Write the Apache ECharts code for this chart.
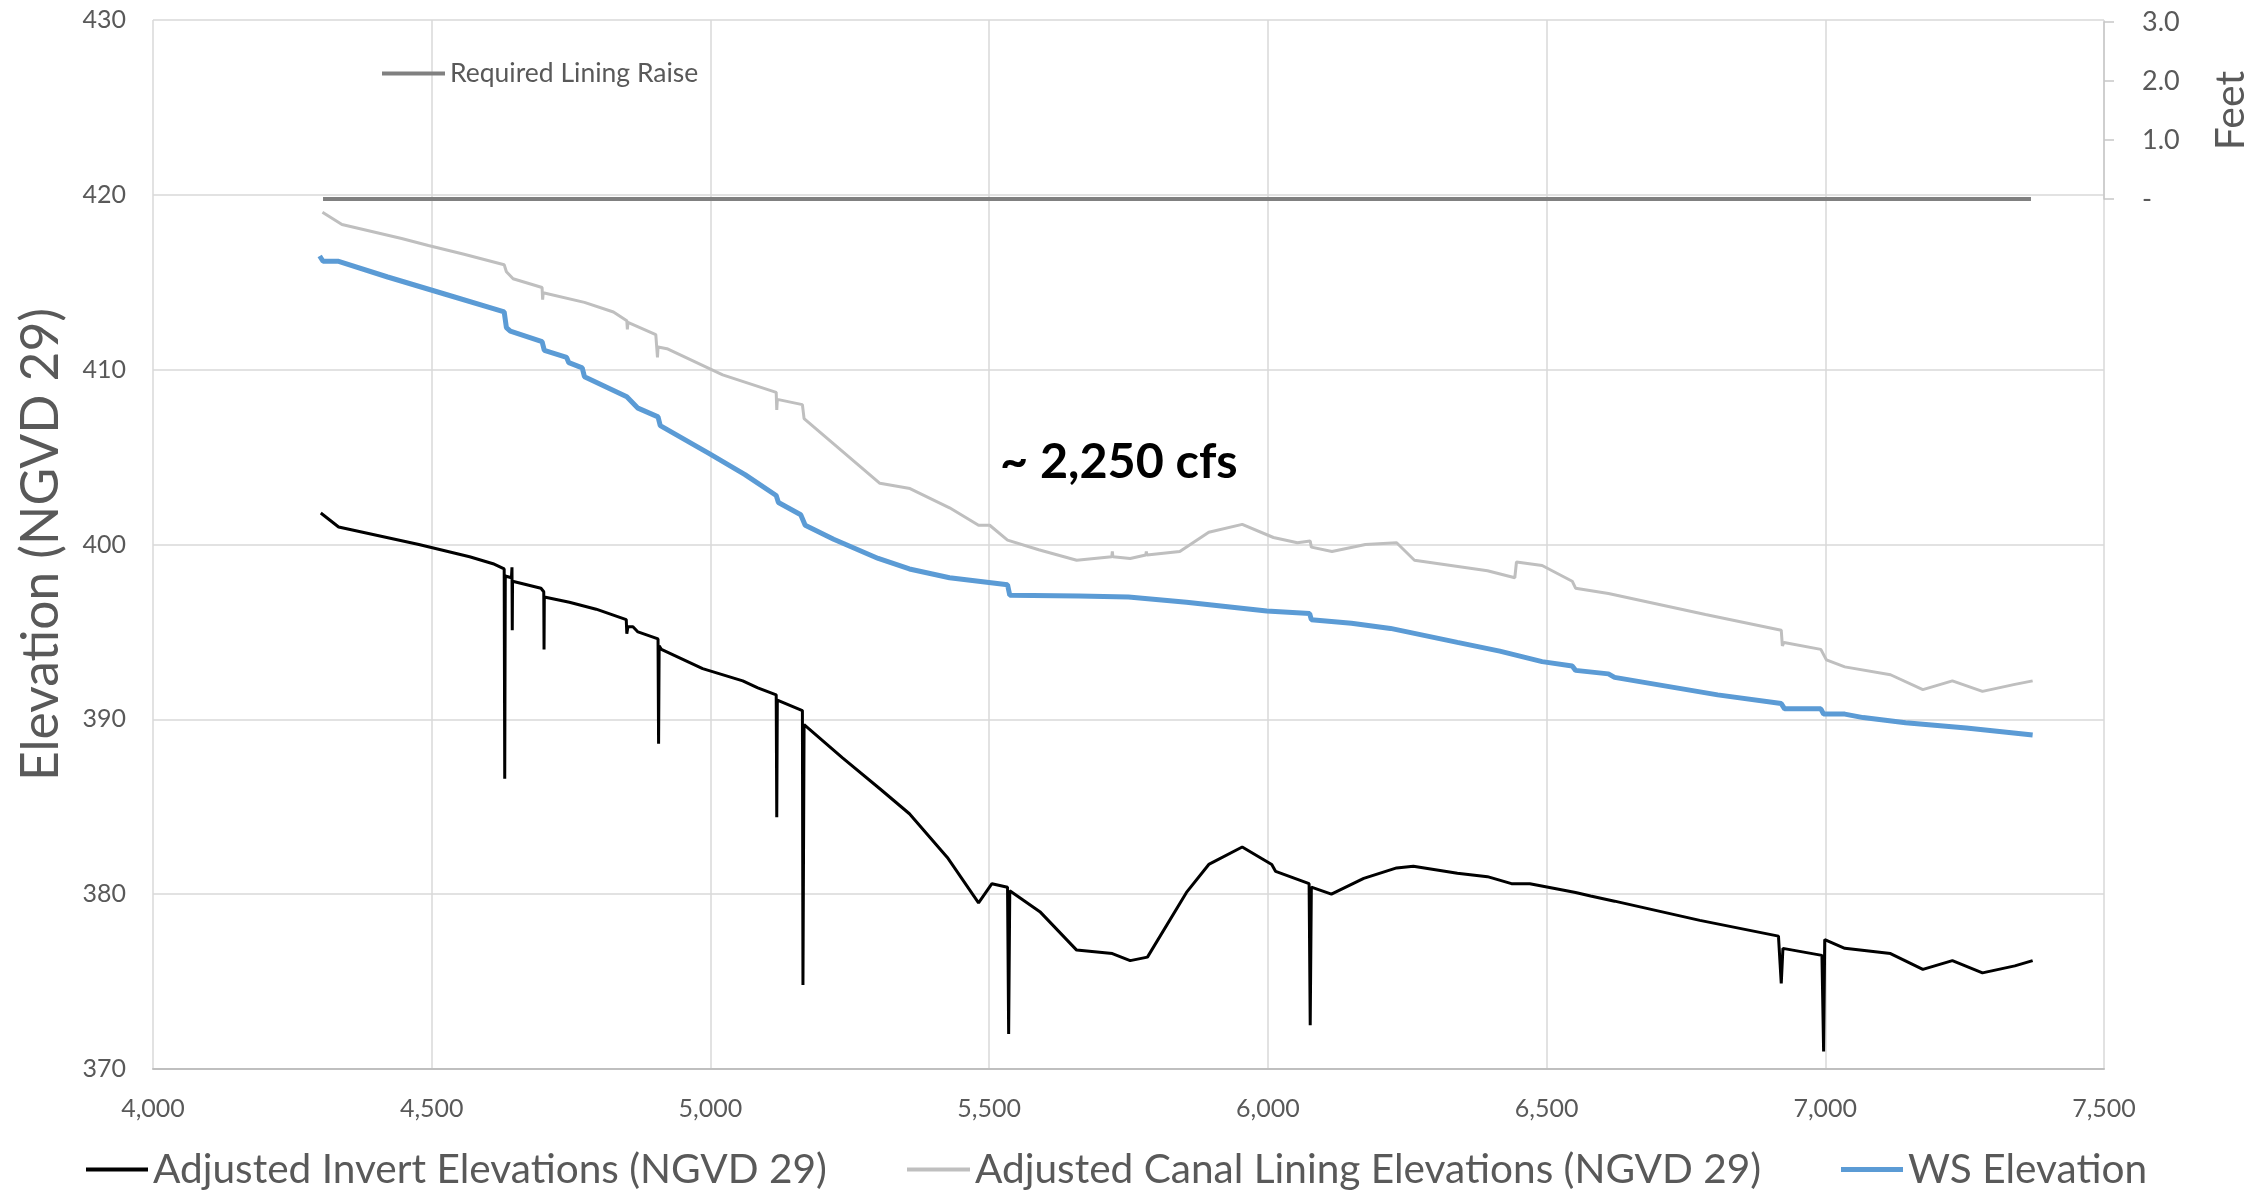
<!DOCTYPE html>
<html>
<head>
<meta charset="utf-8">
<script src="https://cdn.jsdelivr.net/npm/echarts@6/dist/echarts.min.js"></script>
<style>
html,body{margin:0;padding:0;background:#fff;}
#chart{width:2250px;height:1191px;}
</style>
</head>
<body>
<div id="chart"></div>
<script>
// ---- Data (station, elevation) ----
const invertPoints = [
  [4301,401.8],[4317,401.4],[4333,401.0],[4477,400.0],[4568,399.3],[4610,398.9],[4630,398.6],
  [4631,386.6],[4632,398.2],[4643,398.1],[4644,398.7],[4644.5,395.1],[4645,397.9],
  [4696,397.5],[4701,397.3],[4701.5,394.0],[4702,397.0],[4747,396.7],[4795,396.3],
  [4849,395.7],[4850,394.9],[4852,395.3],[4861,395.3],[4870,395.0],[4906,394.6],
  [4907,388.6],[4908,394.2],[4912,394.0],[4986,392.9],[5058,392.2],[5085,391.8],
  [5118,391.4],[5119,384.4],[5120,391.1],[5165,390.5],[5166,374.8],[5168,389.7],
  [5237,387.8],[5305,386.0],[5357,384.6],[5425,382.1],[5481,379.5],[5505,380.6],
  [5533,380.4],[5535,372.0],[5537,380.2],[5591,379.0],[5657,376.8],[5721,376.6],
  [5753,376.2],[5784,376.4],[5854,380.1],[5894,381.7],[5954,382.7],[6007,381.7],
  [6014,381.3],[6074,380.6],[6076,372.5],[6078,380.4],[6114,380.0],[6172,380.9],
  [6231,381.5],[6261,381.6],[6340,381.2],[6394,381.0],[6437,380.6],[6470,380.6],
  [6503,380.4],[6552,380.1],[6579,379.9],[6622,379.6],[6775,378.5],[6916,377.6],
  [6921,374.9],[6924,376.9],[6994,376.5],[6997,371.0],[6999,377.4],[7035,376.9],
  [7117,376.6],[7175,375.7],[7228,376.2],[7282,375.5],[7340,375.9],[7372,376.2]
];
const liningPoints = [
  [4304,419.0],[4339,418.3],[4446,417.5],[4494,417.1],[4558,416.6],[4630,416.0],
  [4634,415.6],[4646,415.2],[4698,414.7],[4699,414.0],[4700,414.4],[4774,413.85],
  [4826,413.3],[4850,412.8],[4851,412.3],[4852,412.7],[4902,412.0],[4905,410.7],
  [4906,411.3],[4922,411.2],[5022,409.7],[5118,408.7],[5119,407.7],[5120,408.3],
  [5165,408.0],[5168,407.2],[5304,403.5],[5358,403.2],[5429,402.1],[5481,401.1],
  [5501,401.1],[5533,400.25],[5589,399.7],[5657,399.1],[5720,399.3],[5721,399.6],
  [5722,399.3],[5753,399.2],[5781,399.4],[5782,399.6],[5783,399.4],[5842,399.6],
  [5894,400.7],[5954,401.15],[6010,400.4],[6053,400.1],[6076,400.2],[6078,399.85],
  [6115,399.6],[6175,400.0],[6231,400.1],[6263,399.1],[6394,398.5],[6443,398.1],
  [6446,399.0],[6492,398.8],[6546,397.9],[6552,397.5],[6611,397.2],[6785,396.0],
  [6921,395.1],[6923,394.2],[6926,394.4],[6992,394.0],[7002,393.4],[7035,393.0],
  [7117,392.55],[7175,391.7],[7228,392.2],[7282,391.6],[7340,392.0],[7372,392.2]
];
const wsPoints = [
  [4299,416.5],[4305,416.2],[4333,416.2],[4421,415.3],[4526,414.3],[4630,413.3],
  [4634,412.4],[4641,412.2],[4698,411.6],[4702,411.1],[4742,410.7],[4746,410.4],
  [4770,410.1],[4774,409.6],[4850,408.45],[4870,407.8],[4906,407.3],[4910,406.8],
  [4998,405.2],[5062,404.0],[5118,402.8],[5122,402.4],[5162,401.7],[5170,401.1],
  [5221,400.3],[5301,399.2],[5357,398.6],[5429,398.1],[5533,397.7],[5537,397.1],
  [5661,397.06],[5750,397.0],[5854,396.7],[5998,396.2],[6075,396.05],[6078,395.7],
  [6150,395.5],[6220,395.2],[6340,394.4],[6416,393.9],[6492,393.3],[6546,393.05],
  [6552,392.8],[6611,392.6],[6622,392.4],[6807,391.4],[6921,390.9],[6927,390.6],
  [6992,390.6],[6997,390.3],[7035,390.3],[7068,390.1],[7144,389.8],[7253,389.5],
  [7372,389.1]
];
const raisePoints = [[4305,0],[7369,0]];

const seriesNames = [
  'Adjusted Invert Elevations (NGVD 29)',
  'Adjusted Canal Lining Elevations (NGVD 29)',
  'WS Elevation',
  'Required Lining Raise'
];
const annotationText = '~ 2,250 cfs';
const leftAxisTitle = 'Elevation (NGVD 29)';
const rightAxisTitle = 'Feet';

const FONT = 'Lato, "Noto Sans", sans-serif';
const LABEL = '#595959';
const GRID = '#d9d9d9';

const chart = echarts.init(document.getElementById('chart'), null, {renderer:'canvas'});

function legendFor(name, left, top, w, h, size){
  return {
    data:[name], left:left, top:top, padding:0, itemGap:0,
    icon:'rect', itemWidth:w, itemHeight:h,
    textStyle:{fontFamily:FONT, fontSize:size, color:LABEL}
  };
}

chart.setOption({
  animation:false,
  backgroundColor:'#fff',
  grid:[
    {left:153, right:146, top:20, bottom:122, outerBoundsMode:'none', containLabel:false},
    {left:153, right:146, top:22, height:177, outerBoundsMode:'none', containLabel:false}
  ],
  xAxis:[
    {type:'value', gridIndex:0, min:4000, max:7500, interval:500,
     axisLine:{show:true, lineStyle:{color:'#bfbfbf', width:2}},
     axisTick:{show:false},
     axisLabel:{margin:27, color:LABEL, fontFamily:FONT, fontSize:25,
       formatter:v=>v.toLocaleString('en-US')},
     splitLine:{show:true, lineStyle:{color:GRID, width:1.5}}},
    {type:'value', gridIndex:1, min:4000, max:7500, show:false}
  ],
  yAxis:[
    {type:'value', gridIndex:0, min:370, max:430, interval:10,
     name:leftAxisTitle, nameLocation:'middle', nameGap:86, nameRotate:90,
     nameTextStyle:{fontFamily:FONT, fontSize:51.5, color:LABEL},
     axisLine:{show:false}, axisTick:{show:false},
     axisLabel:{margin:27, color:LABEL, fontFamily:FONT, fontSize:25},
     splitLine:{show:true, lineStyle:{color:GRID, width:1.5}}},
    {type:'value', gridIndex:1, position:'right', min:0, max:3, interval:1,
     name:rightAxisTitle, nameLocation:'middle', nameGap:106, nameRotate:90,
     nameTextStyle:{fontFamily:FONT, fontSize:41, color:LABEL},
     axisLine:{show:true, lineStyle:{color:'#c8c8c8', width:1.5}},
     axisTick:{show:true, inside:false, length:10, lineStyle:{color:'#c8c8c8', width:1.5}},
     axisLabel:{margin:38, color:LABEL, fontFamily:FONT, fontSize:27,
       formatter:v=> v===0 ? '-' : v.toFixed(1)},
     splitLine:{show:false}}
  ],
  legend:[
    legendFor(seriesNames[0], 86, 1149, 62, 4, 40.6),
    legendFor(seriesNames[1], 907, 1149, 63, 4, 40.6),
    legendFor(seriesNames[2], 1841, 1149, 62, 5, 40.6),
    legendFor(seriesNames[3], 382, 60, 63, 4, 26.5)
  ],
  graphic:[
    {type:'text', x:1000, y:462,
     style:{text:annotationText, font:'bold 48.5px '+FONT, fill:'#000', align:'left', verticalAlign:'middle'}}
  ],
  series:[
    {name:seriesNames[0], type:'line', xAxisIndex:0, yAxisIndex:0, data:invertPoints,
     showSymbol:false, symbol:'none', color:'#000000', itemStyle:{color:'#000000'},
     lineStyle:{color:'#000000', width:3}, z:3},
    {name:seriesNames[1], type:'line', xAxisIndex:0, yAxisIndex:0, data:liningPoints,
     showSymbol:false, symbol:'none', color:'#bfbfbf', itemStyle:{color:'#bfbfbf'},
     lineStyle:{color:'#bfbfbf', width:3}, z:3},
    {name:seriesNames[2], type:'line', xAxisIndex:0, yAxisIndex:0, data:wsPoints,
     showSymbol:false, symbol:'none', color:'#5b9bd5', itemStyle:{color:'#5b9bd5'},
     lineStyle:{color:'#5b9bd5', width:5}, z:3},
    {name:seriesNames[3], type:'line', xAxisIndex:1, yAxisIndex:1, data:raisePoints,
     showSymbol:false, symbol:'none', color:'#808080', itemStyle:{color:'#808080'},
     lineStyle:{color:'#808080', width:4}, z:4}
  ]
});
</script>
</body>
</html>
